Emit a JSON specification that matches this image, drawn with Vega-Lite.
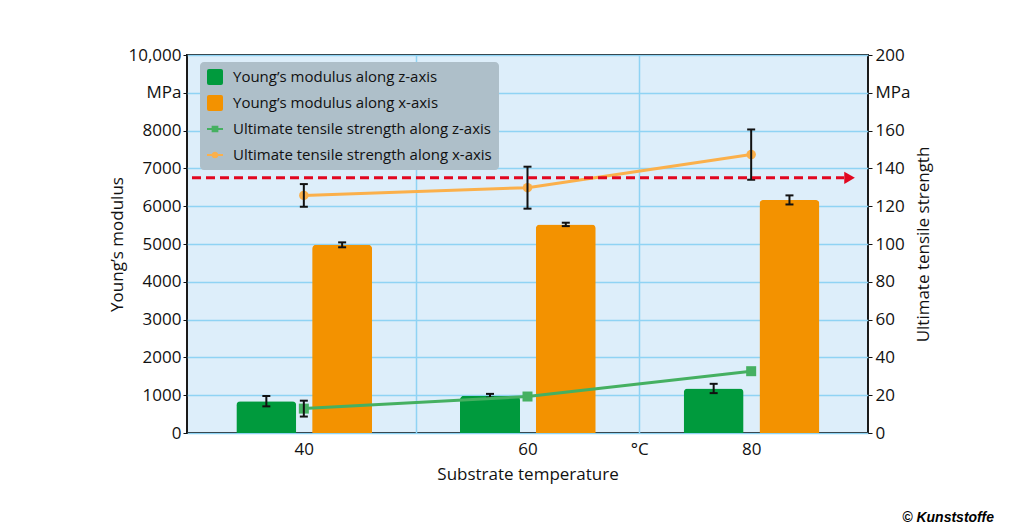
{
  "$schema": "https://vega.github.io/schema/vega-lite/v6.json",
  "width": 681,
  "height": 378,
  "autosize": "none",
  "padding": {"left": 187, "top": 55, "right": 165, "bottom": 96},
  "background": "white",
  "title": {
    "text": "© Kunststoffe",
    "orient": "bottom",
    "anchor": "end",
    "font": "Liberation Sans",
    "fontSize": 14,
    "fontStyle": "italic",
    "fontWeight": "bold",
    "color": "black",
    "dx": 62,
    "offset": 29
  },
  "config": {
    "font": "Open Sans",
    "view": {"fill": "#ddeefa", "stroke": "#1a1a1a", "strokeWidth": 2},
    "axis": {
      "labelFont": "Open Sans",
      "labelFontSize": 17,
      "labelColor": "#111",
      "labelOverlap": false,
      "titleFont": "Open Sans",
      "titleFontSize": 17,
      "titleFontWeight": "normal",
      "titleColor": "#111",
      "domain": false,
      "gridColor": "#8fd3f4",
      "gridWidth": 1.5,
      "gridOpacity": 1
    }
  },
  "datasets": {
    "ym": [
      {"temp": 40, "series": "Young’s modulus along z-axis", "value": 842, "err": 137},
      {"temp": 60, "series": "Young’s modulus along z-axis", "value": 985, "err": 50},
      {"temp": 80, "series": "Young’s modulus along z-axis", "value": 1178, "err": 123},
      {"temp": 40, "series": "Young’s modulus along x-axis", "value": 4978, "err": 65},
      {"temp": 60, "series": "Young’s modulus along x-axis", "value": 5518, "err": 45},
      {"temp": 80, "series": "Young’s modulus along x-axis", "value": 6166, "err": 120}
    ],
    "uts": [
      {"temp": 40, "series": "Ultimate tensile strength along z-axis", "value": 12.9, "err": 4.2},
      {"temp": 60, "series": "Ultimate tensile strength along z-axis", "value": 19.3, "err": 0},
      {"temp": 80, "series": "Ultimate tensile strength along z-axis", "value": 32.7, "err": 0},
      {"temp": 40, "series": "Ultimate tensile strength along x-axis", "value": 125.7, "err": 6},
      {"temp": 60, "series": "Ultimate tensile strength along x-axis", "value": 129.8, "err": 11.1},
      {"temp": 80, "series": "Ultimate tensile strength along x-axis", "value": 147.3, "err": 13.3}
    ],
    "limit": [{"from": 30, "to": 88.3, "tip": 88.8, "uts": 135}]
  },
  "layer": [
    {
      "data": {"name": "ym"},
      "transform": [
        {"calculate": "datum.value - datum.err", "as": "lo"},
        {"calculate": "datum.value + datum.err", "as": "hi"}
      ],
      "layer": [
        {
          "transform": [{"filter": "datum.series == 'Young’s modulus along z-axis'"}],
          "mark": {"type": "bar", "size": 60, "xOffset": -37.5, "cornerRadiusTopLeft": 4, "cornerRadiusTopRight": 4},
          "encoding": {
            "x": {
              "field": "temp", "type": "quantitative",
              "scale": {"domain": [30, 90], "nice": false, "zero": false},
              "axis": {
                "title": "Substrate temperature",
                "values": [40, 50, 60, 70, 80],
                "labelExpr": "datum.value == 70 ? '°C' : datum.value == 50 ? '' : datum.label",
                "ticks": false,
                "labelPadding": 8,
                "titlePadding": 9,
                "grid": true,
                "gridOpacity": {"condition": {"test": "datum.value == 50 || datum.value == 70", "value": 1}, "value": 0}
              }
            },
            "y": {
              "field": "value", "type": "quantitative",
              "scale": {"domain": [0, 10000], "nice": false},
              "axis": {
                "title": "Young’s modulus",
                "values": [0, 1000, 2000, 3000, 4000, 5000, 6000, 7000, 8000, 9000, 10000],
                "labelExpr": "datum.value == 9000 ? 'MPa' : datum.value == 10000 ? '10,000' : '' + datum.value",
                "tickSize": 4,
                "tickColor": "#111",
                "labelPadding": 2,
                "titlePadding": 1,
                "grid": true
              }
            },
            "color": {
              "field": "series", "type": "nominal",
              "scale": {
                "domain": ["Young’s modulus along z-axis", "Young’s modulus along x-axis", "Ultimate tensile strength along z-axis", "Ultimate tensile strength along x-axis"],
                "range": ["#009a3d", "#f39200", "#45b061", "#fbb04b"]
              },
              "legend": {
                "title": null,
                "orient": "none",
                "legendX": 13,
                "legendY": 7,
                "fillColor": "#aebfc9",
                "cornerRadius": 4,
                "padding": 7,
                "rowPadding": 10,
                "labelFont": "Open Sans",
                "labelFontSize": 15,
                "labelColor": "#111",
                "labelLimit": 320,
                "labelOffset": 10,
                "symbolSize": 256,
                "encode": {
                  "symbols": {
                    "update": {
                      "shape": {"signal": "datum.value == 'Ultimate tensile strength along z-axis' ? 'M-1,-0.14H1V0.14H-1Z M-0.42,-0.42H0.42V0.42H-0.42Z' : datum.value == 'Ultimate tensile strength along x-axis' ? 'M-1,-0.14H1V0.14H-1Z M0.42,0A0.42,0.42,0,1,1,-0.42,0A0.42,0.42,0,1,1,0.42,0Z' : 'M-1,-0.75Q-1,-1,-0.75,-1H0.75Q1,-1,1,-0.75V0.75Q1,1,0.75,1H-0.75Q-1,1,-1,0.75Z'"},
                      "fill": {"scale": "color", "field": "value"},
                      "strokeWidth": {"value": 0},
                      "opacity": {"value": 1}
                    }
                  }
                }
              }
            }
          }
        },
        {
          "transform": [{"filter": "datum.series == 'Young’s modulus along x-axis'"}],
          "mark": {"type": "bar", "size": 60, "xOffset": 38.3, "cornerRadiusTopLeft": 4, "cornerRadiusTopRight": 4},
          "encoding": {
            "x": {"field": "temp", "type": "quantitative"},
            "y": {"field": "value", "type": "quantitative", "axis": {"title": "Young’s modulus", "values": [0, 1000, 2000, 3000, 4000, 5000, 6000, 7000, 8000, 9000, 10000]}},
            "color": {"field": "series", "type": "nominal"}
          }
        },
        {
          "transform": [{"filter": "datum.series == 'Young’s modulus along z-axis'"}],
          "layer": [
            {"mark": {"type": "rule", "xOffset": -37.5, "color": "#111", "strokeWidth": 2},
             "encoding": {"x": {"field": "temp", "type": "quantitative"}, "y": {"field": "lo", "type": "quantitative", "axis": {"title": "Young’s modulus", "values": [0, 1000, 2000, 3000, 4000, 5000, 6000, 7000, 8000, 9000, 10000]}}, "y2": {"field": "hi"}}},
            {"mark": {"type": "tick", "orient": "horizontal", "xOffset": -37.5, "color": "#111", "size": 8, "thickness": 2, "opacity": 1},
             "encoding": {"x": {"field": "temp", "type": "quantitative"}, "y": {"field": "lo", "type": "quantitative", "axis": {"title": "Young’s modulus", "values": [0, 1000, 2000, 3000, 4000, 5000, 6000, 7000, 8000, 9000, 10000]}}}},
            {"mark": {"type": "tick", "orient": "horizontal", "xOffset": -37.5, "color": "#111", "size": 8, "thickness": 2, "opacity": 1},
             "encoding": {"x": {"field": "temp", "type": "quantitative"}, "y": {"field": "hi", "type": "quantitative", "axis": {"title": "Young’s modulus", "values": [0, 1000, 2000, 3000, 4000, 5000, 6000, 7000, 8000, 9000, 10000]}}}}
          ]
        },
        {
          "transform": [{"filter": "datum.series == 'Young’s modulus along x-axis'"}],
          "layer": [
            {"mark": {"type": "rule", "xOffset": 38.3, "color": "#111", "strokeWidth": 2},
             "encoding": {"x": {"field": "temp", "type": "quantitative"}, "y": {"field": "lo", "type": "quantitative", "axis": {"title": "Young’s modulus", "values": [0, 1000, 2000, 3000, 4000, 5000, 6000, 7000, 8000, 9000, 10000]}}, "y2": {"field": "hi"}}},
            {"mark": {"type": "tick", "orient": "horizontal", "xOffset": 38.3, "color": "#111", "size": 8, "thickness": 2, "opacity": 1},
             "encoding": {"x": {"field": "temp", "type": "quantitative"}, "y": {"field": "lo", "type": "quantitative", "axis": {"title": "Young’s modulus", "values": [0, 1000, 2000, 3000, 4000, 5000, 6000, 7000, 8000, 9000, 10000]}}}},
            {"mark": {"type": "tick", "orient": "horizontal", "xOffset": 38.3, "color": "#111", "size": 8, "thickness": 2, "opacity": 1},
             "encoding": {"x": {"field": "temp", "type": "quantitative"}, "y": {"field": "hi", "type": "quantitative", "axis": {"title": "Young’s modulus", "values": [0, 1000, 2000, 3000, 4000, 5000, 6000, 7000, 8000, 9000, 10000]}}}}
          ]
        }
      ]
    },
    {
      "layer": [
        {
          "data": {"name": "uts"},
          "transform": [{"filter": "datum.series == 'Ultimate tensile strength along z-axis'"}],
          "mark": {"type": "line", "strokeWidth": 3, "point": {"shape": "square", "size": 100, "filled": true, "opacity": 1}},
          "encoding": {
            "x": {"field": "temp", "type": "quantitative"},
            "y": {
              "field": "value", "type": "quantitative",
              "scale": {"domain": [0, 200], "nice": false},
              "axis": {
                "orient": "right",
                "title": "Ultimate tensile strength",
                "titleAngle": 270,
                "values": [0, 20, 40, 60, 80, 100, 120, 140, 160, 180, 200],
                "labelExpr": "datum.value == 180 ? 'MPa' : datum.label",
                "tickSize": 4,
                "tickColor": "#111",
                "labelPadding": 3,
                "titlePadding": 23,
                "grid": false
              }
            },
            "color": {"field": "series", "type": "nominal"}
          }
        },
        {
          "data": {"name": "uts"},
          "transform": [{"filter": "datum.series == 'Ultimate tensile strength along x-axis'"}],
          "mark": {"type": "line", "strokeWidth": 3, "point": {"shape": "circle", "size": 90, "filled": true, "opacity": 1}},
          "encoding": {
            "x": {"field": "temp", "type": "quantitative"},
            "y": {"field": "value", "type": "quantitative", "axis": {"orient": "right", "title": "Ultimate tensile strength", "values": [0, 20, 40, 60, 80, 100, 120, 140, 160, 180, 200]}},
            "color": {"field": "series", "type": "nominal"}
          }
        },
        {
          "data": {"name": "uts"},
          "transform": [
            {"filter": "datum.err > 0"},
            {"calculate": "datum.value - datum.err", "as": "lo"},
            {"calculate": "datum.value + datum.err", "as": "hi"}
          ],
          "layer": [
            {"mark": {"type": "rule", "color": "#111", "strokeWidth": 2},
             "encoding": {"x": {"field": "temp", "type": "quantitative"}, "y": {"field": "lo", "type": "quantitative", "axis": {"orient": "right", "title": "Ultimate tensile strength", "values": [0, 20, 40, 60, 80, 100, 120, 140, 160, 180, 200]}}, "y2": {"field": "hi"}}},
            {"mark": {"type": "tick", "orient": "horizontal", "color": "#111", "size": 8, "thickness": 2, "opacity": 1},
             "encoding": {"x": {"field": "temp", "type": "quantitative"}, "y": {"field": "lo", "type": "quantitative", "axis": {"orient": "right", "title": "Ultimate tensile strength", "values": [0, 20, 40, 60, 80, 100, 120, 140, 160, 180, 200]}}}},
            {"mark": {"type": "tick", "orient": "horizontal", "color": "#111", "size": 8, "thickness": 2, "opacity": 1},
             "encoding": {"x": {"field": "temp", "type": "quantitative"}, "y": {"field": "hi", "type": "quantitative", "axis": {"orient": "right", "title": "Ultimate tensile strength", "values": [0, 20, 40, 60, 80, 100, 120, 140, 160, 180, 200]}}}}
          ]
        },
        {
          "data": {"name": "limit"},
          "mark": {"type": "rule", "color": "#e2071f", "strokeWidth": 3, "strokeDash": [9, 5]},
          "encoding": {
            "x": {"field": "from", "type": "quantitative"},
            "x2": {"field": "to"},
            "y": {"field": "uts", "type": "quantitative", "axis": {"orient": "right", "title": "Ultimate tensile strength", "values": [0, 20, 40, 60, 80, 100, 120, 140, 160, 180, 200]}}
          }
        },
        {
          "data": {"name": "limit"},
          "mark": {"type": "point", "shape": "triangle-right", "filled": true, "color": "#e2071f", "size": 150, "opacity": 1},
          "encoding": {
            "x": {"field": "tip", "type": "quantitative"},
            "y": {"field": "uts", "type": "quantitative", "axis": {"orient": "right", "title": "Ultimate tensile strength", "values": [0, 20, 40, 60, 80, 100, 120, 140, 160, 180, 200]}}
          }
        }
      ]
    }
  ],
  "resolve": {"scale": {"y": "independent"}}
}
